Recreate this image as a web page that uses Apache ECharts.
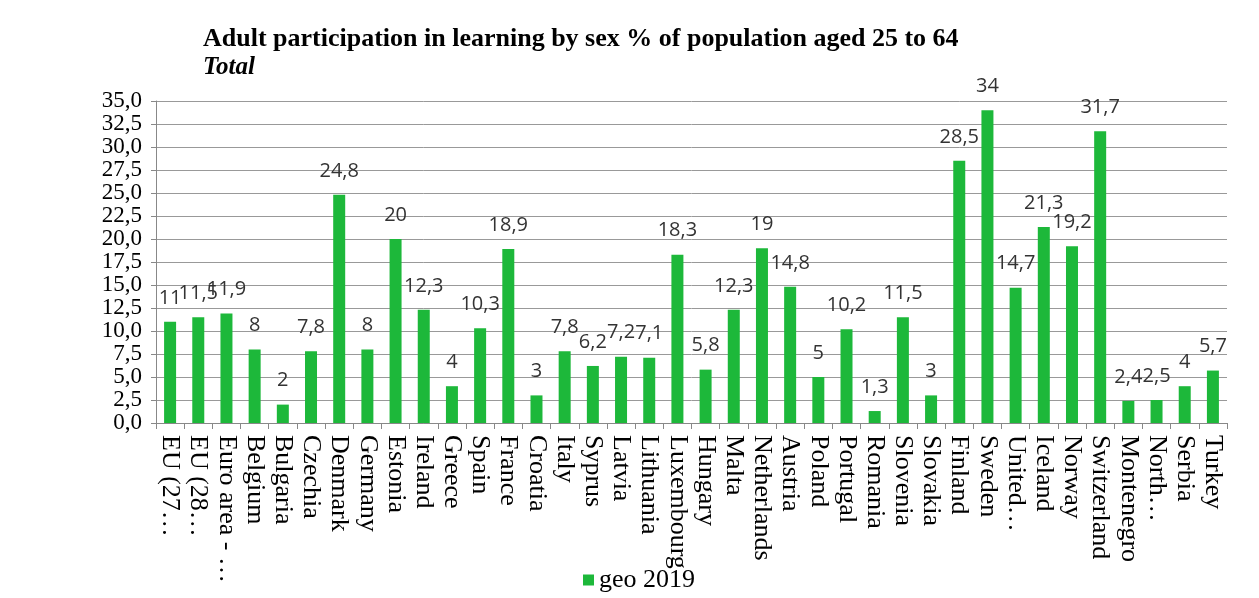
<!DOCTYPE html>
<html><head><meta charset="utf-8">
<script src="https://cdn.jsdelivr.net/npm/echarts@6/dist/echarts.min.js"></script>
<style>html,body{margin:0;padding:0;background:#fff}#c{width:1259px;height:598px}</style>
</head><body><div id="c"></div>
<script>
const categories = ["EU (27\u2026","EU (28\u2026","Euro area - \u2026","Belgium","Bulgaria","Czechia","Denmark","Germany","Estonia","Ireland","Greece","Spain","France","Croatia","Italy","Syprus","Latvia","Lithuania","Luxembourg","Hungary","Malta","Netherlands","Austria","Poland","Portugal","Romania","Slovenia","Slovakia","Finland","Sweden","United\u2026","Iceland","Norway","Switzerland","Montenegro","North\u2026","Serbia","Turkey"];
const values2019 = [11,11.5,11.9,8,2,7.8,24.8,8,20,12.3,4,10.3,18.9,3,7.8,6.2,7.2,7.1,18.3,5.8,12.3,19,14.8,5,10.2,1.3,11.5,3,28.5,34,14.7,21.3,19.2,31.7,2.4,2.5,4,5.7];
const seriesName = "geo 2019";
const titleText = "Adult participation in learning by sex % of population aged 25 to 64";
const subText = "Total";

const chart = echarts.init(document.getElementById('c'));
const serif = "'Liberation Serif','Times New Roman',serif";
chart.setOption({
  animation:false,
  backgroundColor:'#fff',
  title:{text:titleText, subtext:subText, left:198, top:21, itemGap:3,
    textStyle:{fontFamily:serif,fontWeight:'bold',fontSize:26,color:'#000'},
    subtextStyle:{fontFamily:serif,fontWeight:'bold',fontStyle:'italic',fontSize:25,color:'#000'}},
  legend:{bottom:0, left:578, itemWidth:11, itemHeight:11, itemGap:6,
    textStyle:{fontFamily:serif,fontSize:26,color:'#000'}, data:[{name:seriesName, icon:'rect'}]},
  grid:{left:156, right:32, top:101, bottom:175, containLabel:false},
  xAxis:{type:'category', data:categories,
    axisLine:{lineStyle:{color:'#888'}},
    axisTick:{show:true, alignWithLabel:false, length:6, lineStyle:{color:'#888'}},
    axisLabel:{rotate:-90, interval:0, margin:12, fontFamily:serif, fontSize:26, color:'#000'}},
  yAxis:{type:'value', min:0, max:35, interval:2.5,
    axisLine:{show:true, lineStyle:{color:'#888'}},
    axisTick:{show:true, length:5, lineStyle:{color:'#888'}},
    splitLine:{lineStyle:{color:'#999'}},
    axisLabel:{fontFamily:serif, fontSize:23, color:'#000', margin:14, lineHeight:20,
      showMinLabel:true, showMaxLabel:true, hideOverlap:false,
      formatter:v=>v.toFixed(1).replace('.',',')}},
  series:[{name:seriesName, type:'bar', data:values2019, barWidth:12,
    itemStyle:{color:'#1db83a'},
    label:{show:true, position:'top', distance:14, fontFamily:"'Open Sans','DejaVu Sans',sans-serif", fontSize:20, color:'#333',
      formatter:p=>String(p.value).replace('.',',')}}]
});
</script></body></html>
